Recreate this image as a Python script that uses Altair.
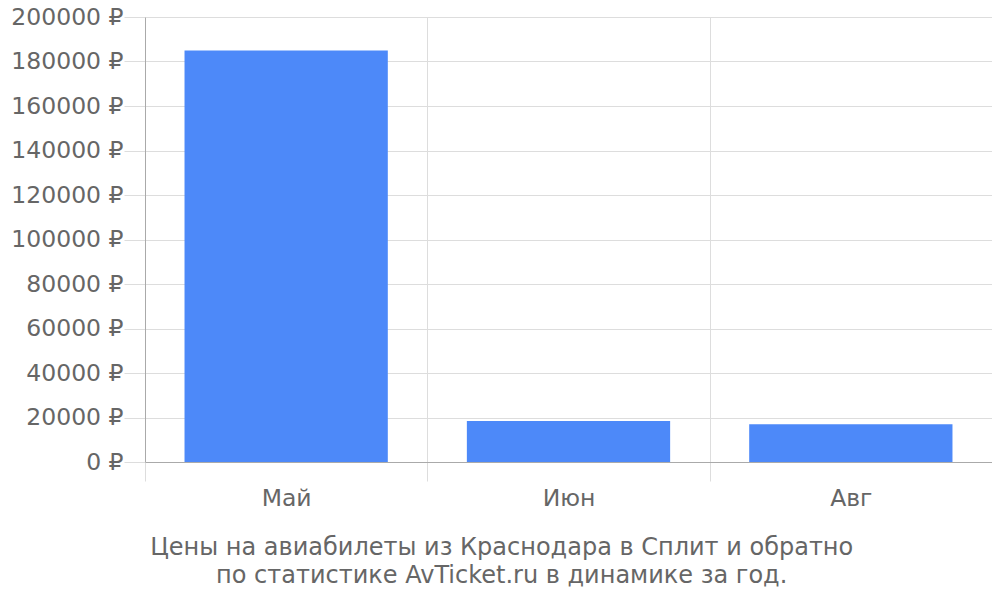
import altair as alt
import pandas as pd

months = ["Май", "Июн", "Авг"]
prices = [185000, 18400, 17000]
title_lines = ["Цены на авиабилеты из Краснодара в Сплит и обратно",
               "по статистике AvTicket.ru в динамике за год."]

df = pd.DataFrame({"month": months, "price": prices})

FONT = "DejaVu Sans"
GRAY = "#666666"
FS = 23.5

chart = alt.Chart(df).mark_bar(color="#4d89f9", width=alt.RelativeBandSize(0.72)).encode(
    x=alt.X("month:N", sort=months, title=None,
            scale=alt.Scale(paddingInner=0, paddingOuter=0),
            axis=alt.Axis(tickBand="extent", grid=True, gridColor="#dddddd",
                          tickColor="#dddddd", tickSize=19, domain=True, domainColor="#aaaaaa",
                          labelAngle=0, labelFont=FONT, labelFontSize=FS, labelColor=GRAY,
                          labelPadding=5)),
    y=alt.Y("price:Q", title=None,
            scale=alt.Scale(domain=[0, 200000]),
            axis=alt.Axis(values=list(range(0, 200001, 20000)), labelExpr="datum.value + ' ₽'",
                          grid=True, gridColor="#dddddd", tickColor="#dddddd", tickSize=21,
                          domainColor="#aaaaaa", labelFont=FONT, labelFontSize=FS,
                          labelColor=GRAY, labelPadding=1)),
).properties(
    width=847, height=445,
    title=alt.TitleParams(text=title_lines, orient="bottom", anchor="middle", frame="bounds",
                          font=FONT, fontSize=24, fontWeight="normal", color=GRAY,
                          lineHeight=28, offset=26),
    padding={"left": 137, "top": 9, "right": 0, "bottom": 130},
    autosize=alt.AutoSizeParams(type="none"),
).configure_view(stroke=None)

chart.save("out.html", embed_options={"renderer": "svg", "actions": False})
